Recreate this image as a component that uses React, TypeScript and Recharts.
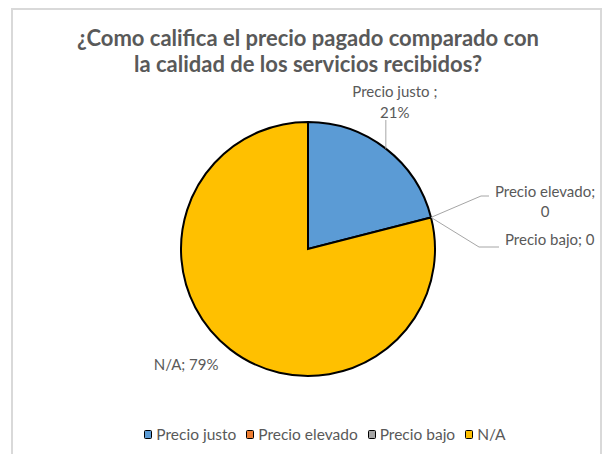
import React from "react";
import { PieChart, Pie, Cell, Legend } from "recharts";

const categories = ["Precio justo ", "Precio elevado", "Precio bajo", "N/A"];
const values = [21, 0, 0, 79];
const colors = ["#5B9BD5", "#ED7D31", "#A5A5A5", "#FFC000"];
const titleLines = [
  "¿Como califica el precio pagado comparado con",
  "la calidad de los servicios recibidos?",
];

const data = categories.map((name, i) => ({ name, value: values[i] }));

const FONT = "Lato, 'Open Sans', sans-serif";
const TEXT = "#595959";
const RAD = Math.PI / 180;

const renderLabel = (props: any) => {
  const { cx, cy, midAngle, outerRadius, index, name, value, percent } = props;
  const ex = cx + outerRadius * Math.cos(-midAngle * RAD);
  const ey = cy + outerRadius * Math.sin(-midAngle * RAD);
  const valText = value > 0 ? `${Math.round(percent * 100)}%` : `${value}`;
  const common = { fontFamily: FONT, fontSize: 15, fill: TEXT, dominantBaseline: "middle" as const };
  const line = "#A6A6A6";
  if (index === 0) {
    return (
      <g key={`l${index}`}>
        <path d={`M${ex},${ey}L${ex},${cy - 129}`} stroke={line} fill="none" />
        <text x={ex + 9} y={cy - 156} textAnchor="middle" {...common}>{`${name};`}</text>
        <text x={ex + 9} y={cy - 135} textAnchor="middle" {...common}>{valText}</text>
      </g>
    );
  }
  if (index === 1) {
    return (
      <g key={`l${index}`}>
        <path d={`M${ex},${ey}L${ex + 50},${cy - 53}L${ex + 58},${cy - 53}`} stroke={line} fill="none" />
        <text x={cx + 237} y={cy - 56} textAnchor="middle" {...common}>{`${name};`}</text>
        <text x={cx + 237} y={cy - 36} textAnchor="middle" {...common}>{valText}</text>
      </g>
    );
  }
  if (index === 2) {
    return (
      <g key={`l${index}`}>
        <path d={`M${ex},${ey}L${ex + 48},${cy - 2}L${ex + 68},${cy - 2}`} stroke={line} fill="none" />
        <text x={ex + 74} y={cy - 8} textAnchor="start" {...common}>{`${name}; ${valText}`}</text>
      </g>
    );
  }
  return (
    <g key={`l${index}`}>
      <text x={ex - 44} y={ey + 17} textAnchor="middle" {...common}>{`${name}; ${valText}`}</text>
    </g>
  );
};

const renderLegend = (props: any) => {
  const payload = [...(props.payload || [])].sort(
    (a: any, b: any) => categories.indexOf(a.value) - categories.indexOf(b.value)
  );
  return (
    <div style={{ display: "flex", justifyContent: "center", fontFamily: FONT, fontSize: 15.5, color: TEXT }}>
      {payload.map((p: any, i: number) => (
        <div key={i} style={{ display: "flex", alignItems: "center", marginRight: 10 }}>
          <span
            style={{
              display: "inline-block",
              width: 6,
              height: 7,
              background: p.color,
              border: "1.5px solid #000",
              borderRadius: 1.5,
              marginRight: 4,
            }}
          />
          <span>{p.value}</span>
        </div>
      ))}
    </div>
  );
};

export default function App() {
  return (
    <div style={{ position: "absolute", left: 0, top: 0, width: 603, height: 454, background: "#fff", overflow: "hidden" }}>
      <div
        style={{
          position: "absolute",
          left: 11,
          top: 8,
          width: 591,
          height: 460,
          border: "2px solid #D9D9D9",
          boxSizing: "border-box",
        }}
      />
      <div
        style={{
          position: "absolute",
          left: 0,
          top: 25,
          width: 616,
          textAlign: "center",
          fontFamily: FONT,
          fontWeight: 700,
          fontSize: 22,
          lineHeight: "26px",
          color: TEXT,
        }}
      >
        {titleLines.map((t, i) => (
          <div key={i}>{t}</div>
        ))}
      </div>
      <div style={{ position: "absolute", left: 0, top: 0 }}>
        <PieChart width={603} height={454} margin={{ top: 0, right: 0, bottom: 0, left: 0 }}>
          <Pie
            data={data}
            dataKey="value"
            nameKey="name"
            cx={308}
            cy={249}
            outerRadius={127}
            startAngle={90}
            endAngle={-270}
            stroke="#000"
            strokeWidth={2}
            label={renderLabel}
            labelLine={false}
            isAnimationActive={false}
          >
            {data.map((d, i) => (
              <Cell key={i} fill={colors[i]} />
            ))}
          </Pie>
          <Legend
            content={renderLegend}
            verticalAlign="bottom"
            wrapperStyle={{ position: "absolute", left: 0, top: 425, width: 660 }}
          />
        </PieChart>
      </div>
    </div>
  );
}
